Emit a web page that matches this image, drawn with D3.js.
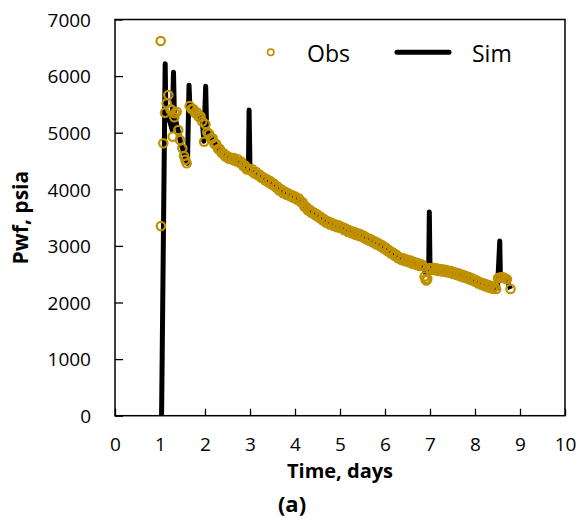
<!DOCTYPE html>
<html>
<head>
<meta charset="utf-8">
<script src="https://cdn.jsdelivr.net/npm/d3@7"></script>
<style>
  body { margin: 0; background: #ffffff; }
  svg { display: block; font-family: "Open Sans", sans-serif; }
</style>
</head>
<body>
<svg id="chart" width="578" height="523"></svg>
<script>
// tick values
let xTicks = [0, 1, 2, 3, 4, 5, 6, 7, 8, 9, 10];
let yTicks = [0, 1000, 2000, 3000, 4000, 5000, 6000, 7000];

// observed bottomhole pressure (days, psia)
let obsDays = [
  1.015, 1.02, 1.074, 1.111, 1.148, 1.185, 1.237, 1.244, 1.281, 1.318, 1.333, 1.37, 1.407, 1.444, 1.496, 1.533, 1.563, 1.593,
  1.66, 1.70, 1.74, 1.78, 1.82, 1.86, 1.90, 1.94, 1.98, 2.01, 2.05, 2.09, 2.13, 2.17, 2.21, 2.25, 2.29, 2.33,
  2.37, 2.41, 2.45, 2.49, 2.53, 2.57, 2.61, 2.65, 2.69, 2.73, 2.77, 2.81, 2.85, 2.89, 2.93, 2.96,
  3.01, 3.05, 3.09, 3.13, 3.17, 3.21, 3.25, 3.29, 3.33, 3.37, 3.41, 3.45, 3.49, 3.53, 3.57, 3.61,
  3.65, 3.69, 3.73, 3.77, 3.81, 3.85, 3.89, 3.93, 3.97, 4.01, 4.05, 4.09, 4.13, 4.17, 4.21, 4.25,
  4.29, 4.33, 4.37, 4.41, 4.45, 4.49, 4.53, 4.57, 4.61, 4.65, 4.69, 4.73, 4.77, 4.81, 4.85, 4.89,
  4.93, 4.97, 5.01, 5.05, 5.09, 5.13, 5.17, 5.21, 5.25, 5.29, 5.33, 5.37, 5.41, 5.45, 5.49, 5.53,
  5.57, 5.61, 5.65, 5.69, 5.73, 5.77, 5.81, 5.85, 5.89, 5.93, 5.97, 6.01, 6.05, 6.09, 6.13, 6.17,
  6.21, 6.25, 6.29, 6.33, 6.37, 6.41, 6.45, 6.49, 6.53, 6.57, 6.61, 6.65, 6.69, 6.73, 6.77, 6.81,
  6.85, 6.88, 6.90, 6.92, 6.94, 6.99, 7.03, 7.07, 7.11, 7.15, 7.19, 7.23, 7.27, 7.31, 7.35, 7.39,
  7.43, 7.47, 7.51, 7.55, 7.59, 7.63, 7.67, 7.71, 7.75, 7.79, 7.83, 7.87, 7.91, 7.95, 7.99, 8.03,
  8.07, 8.11, 8.15, 8.19, 8.23, 8.27, 8.31, 8.35, 8.39, 8.43, 8.47, 8.51, 8.55, 8.59, 8.63, 8.67,
  8.71, 8.79
];
let obsPwf = [
  6620, 3350, 4813, 5353, 5519, 5666, 5401, 5413, 4929, 5272, 5343, 5371, 5048, 4869, 4724, 4588, 4520, 4459,
  5470, 5420, 5420, 5350, 5360, 5280, 5290, 5200, 4840, 5150, 5010, 4980, 4900, 4900, 4800, 4800, 4710, 4710,
  4640, 4640, 4580, 4590, 4540, 4560, 4520, 4550, 4495, 4530, 4470, 4485, 4410, 4420, 4350, 4365,
  4330, 4355, 4285, 4310, 4250, 4260, 4205, 4215, 4160, 4180, 4120, 4145, 4080, 4100, 4035, 4050,
  3980, 4000, 3935, 3960, 3905, 3930, 3875, 3900, 3845, 3870, 3815, 3835, 3770, 3770, 3690, 3690,
  3625, 3640, 3580, 3595, 3540, 3560, 3500, 3515, 3455, 3470, 3410, 3435, 3380, 3410, 3355, 3380,
  3330, 3365, 3315, 3335, 3280, 3305, 3250, 3275, 3225, 3255, 3200, 3230, 3180, 3210, 3155, 3180,
  3120, 3145, 3090, 3115, 3060, 3080, 3025, 3050, 2995, 3015, 2955, 2975, 2910, 2925, 2865, 2885,
  2825, 2845, 2780, 2800, 2750, 2780, 2730, 2760, 2710, 2740, 2685, 2715, 2665, 2695, 2645, 2675,
  2640, 2460, 2410, 2390, 2420, 2610, 2580, 2615, 2570, 2605, 2558, 2592, 2548, 2583, 2537, 2570,
  2525, 2555, 2505, 2535, 2485, 2515, 2465, 2495, 2442, 2472, 2422, 2450, 2398, 2425, 2370, 2392,
  2335, 2360, 2308, 2338, 2285, 2315, 2263, 2295, 2245, 2278, 2240, 2430, 2440, 2445, 2445, 2425,
  2410, 2240
];

// simulated bottomhole pressure (days, psia)
let simDays = [
  1.035, 1.115, 1.13, 1.20, 1.27, 1.30, 1.32, 1.40, 1.45, 1.50, 1.55, 1.61, 1.645, 1.665, 1.75, 1.85,
  1.94, 1.975, 2.015, 2.035, 2.10, 2.20, 2.30, 2.45, 2.60, 2.75, 2.85, 2.965, 2.98, 3.00, 3.20, 3.40,
  3.60, 3.80, 4.00, 4.20, 4.40, 4.60, 4.80, 5.00, 5.20, 5.40, 5.60, 5.80, 6.00, 6.20, 6.40, 6.60,
  6.80, 6.86, 6.90, 6.97, 6.985, 7.00, 7.20, 7.40, 7.60, 7.80, 8.00, 8.20, 8.40, 8.50, 8.55, 8.565,
  8.70, 8.79
];
let simPwf = [
  0, 6220, 5350, 5250, 5050, 6070, 5300, 5050, 4860, 4720, 4570, 4460, 5840, 5450, 5390, 5300,
  5220, 4850, 5820, 5100, 4960, 4840, 4710, 4600, 4540, 4500, 4430, 4345, 5400, 4350, 4245, 4140,
  4040, 3930, 3855, 3720, 3580, 3480, 3390, 3340, 3260, 3200, 3130, 3050, 2960, 2850, 2760, 2710,
  2660, 2640, 2520, 2500, 3600, 2600, 2575, 2550, 2505, 2450, 2385, 2315, 2265, 2255, 3085, 2430,
  2410, 2240
];

let obsColor = "#BF9000";

let svg = d3.select("#chart");
svg.append("rect").attr("width", 578).attr("height", 523).attr("fill", "#ffffff");

let plotL = 115, plotR = 565, plotT = 19.5, plotB = 415.7;

let x = d3.scaleLinear().domain([0, 10]).range([plotL, plotR]);
let y = d3.scaleLinear().domain([0, 7000]).range([plotB, plotT]);

// simulated line first, observed circles on top
let simLine = d3.line()
  .x((d, i) => x(simDays[i]))
  .y((d, i) => y(simPwf[i]));

svg.append("path")
  .datum(simPwf)
  .attr("d", simLine)
  .attr("fill", "none")
  .attr("stroke", "#000000")
  .attr("stroke-width", 5)
  .attr("stroke-linejoin", "round")
  .attr("stroke-linecap", "butt");

svg.append("g")
  .selectAll("circle")
  .data(obsPwf)
  .enter().append("circle")
    .attr("cx", (d, i) => x(obsDays[i]))
    .attr("cy", (d) => y(d))
    .attr("r", 4.2)
    .attr("fill", "none")
    .attr("stroke", obsColor)
    .attr("stroke-width", 2.2);

// axes with inward ticks
let xAxis = d3.axisBottom(x).tickValues(xTicks).tickSizeInner(-7).tickSizeOuter(0).tickPadding(22)
  .tickFormat(d3.format("d"));
let yAxis = d3.axisLeft(y).tickValues(yTicks).tickSizeInner(-8).tickSizeOuter(0).tickPadding(24)
  .tickFormat(d3.format("d"));

let gx = svg.append("g").attr("transform", "translate(0," + plotB + ")").call(xAxis);
let gy = svg.append("g").attr("transform", "translate(" + plotL + ",0)").call(yAxis);

[gx, gy].forEach(g => {
  g.select(".domain").remove();
  g.selectAll(".tick line").attr("stroke", "#000000").attr("stroke-width", 1.3);
  g.selectAll(".tick text")
    .attr("fill", "#000000")
    .style("font-family", "'Open Sans', sans-serif")
    .style("font-size", "19px");
});
gy.selectAll(".tick text").attr("dy", "0.36em");

// frame
svg.append("rect")
  .attr("x", plotL).attr("y", plotT)
  .attr("width", plotR - plotL).attr("height", plotB - plotT)
  .attr("fill", "none")
  .attr("stroke", "#000000")
  .attr("stroke-width", 1.5);

// titles
svg.append("text")
  .attr("x", (plotL + plotR) / 2).attr("y", 478)
  .attr("text-anchor", "middle")
  .style("font-size", "20px").style("font-weight", "bold")
  .text("Time, days");

svg.append("text")
  .attr("transform", "translate(28," + ((plotT + plotB) / 2) + ") rotate(-90)")
  .attr("text-anchor", "middle")
  .style("font-size", "21px").style("font-weight", "bold")
  .text("Pwf, psia");

svg.append("text")
  .attr("x", 292).attr("y", 512)
  .attr("text-anchor", "middle")
  .style("font-size", "22px").style("font-weight", "bold")
  .text("(a)");

// legend
let legend = svg.append("g");
legend.append("circle")
  .attr("cx", 270.7).attr("cy", 52.3).attr("r", 3.2)
  .attr("fill", "none").attr("stroke", obsColor).attr("stroke-width", 1.6);
legend.append("text")
  .attr("x", 307).attr("y", 61.5)
  .style("font-size", "23px")
  .text("Obs");
legend.append("line")
  .attr("x1", 397).attr("x2", 449).attr("y1", 52.3).attr("y2", 52.3)
  .attr("stroke", "#000000").attr("stroke-width", 5).attr("stroke-linecap", "round");
legend.append("text")
  .attr("x", 472).attr("y", 61.5)
  .style("font-size", "23px")
  .text("Sim");
</script>
</body>
</html>
